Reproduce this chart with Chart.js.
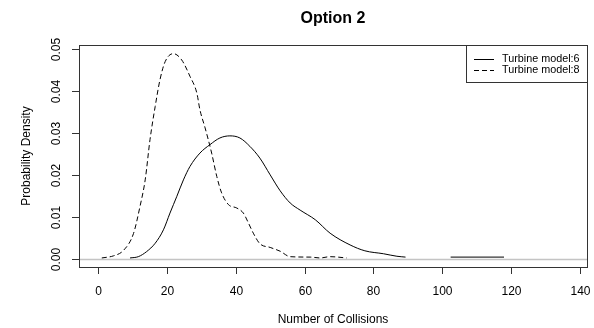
<!DOCTYPE html>
<html>
<head>
<meta charset="utf-8">
<script src="https://cdn.jsdelivr.net/npm/chart.js@4"></script>
<style>
  body { margin: 0; background: #fff; }
  canvas { display: block; }
</style>
</head>
<body>
<canvas id="chart" width="594" height="328"></canvas>
<script>
// values
var seriesNames = ['Turbine model:6', 'Turbine model:8'];

var x6 = [9.3, 11.7, 14.1, 16.6, 19.0, 20.9, 22.9, 24.8, 26.7, 29.6, 32.5, 35.4, 38.3, 41.2,
          44.1, 47.0, 50.0, 52.9, 55.8, 58.7, 63.1, 67.4, 73.2, 77.5, 82.9, 86.8, 89.3, null,
          102.4, 117.9];
var y6 = [0.0002, 0.0005, 0.0017, 0.0037, 0.0069, 0.0109, 0.0149, 0.0188, 0.0220, 0.0252,
          0.0272, 0.0288, 0.0293, 0.0288, 0.0268, 0.0240, 0.0200, 0.0162, 0.0133, 0.0116,
          0.0093, 0.0061, 0.0033, 0.0019, 0.0012, 0.0006, 0.0004, null, 0.0004, 0.0004];

var x8 = [1.1, 4.5, 7.4, 10.3, 12.2, 13.7, 15.1, 16.6, 18.0, 19.5, 21.9, 24.3, 26.7, 28.7,
          29.6, 31.1, 33.0, 34.5, 35.9, 37.9, 40.3, 42.2, 43.7, 45.1, 47.0, 50.0, 52.9, 55.8,
          61.6, 64.5, 67.4, 72.2];
var y8 = [0.0002, 0.0007, 0.0020, 0.0060, 0.0125, 0.0188, 0.0284, 0.0363, 0.0427, 0.0470,
          0.0489, 0.0474, 0.0435, 0.0395, 0.0355, 0.0312, 0.0252, 0.0196, 0.0157, 0.0129,
          0.0121, 0.0109, 0.0085, 0.0061, 0.0036, 0.0027, 0.0018, 0.0005, 0.0004, 0.0002,
          0.0005, 0.0002];

var xTicks = [0, 20, 40, 60, 80, 100, 120, 140];
var yTicks = [0, 0.01, 0.02, 0.03, 0.04, 0.05];
var yTickLabels = ['0.00', '0.01', '0.02', '0.03', '0.04', '0.05'];

function toPoints(xs, ys) {
    var pts = [];
    for (var i = 0; i < xs.length; i++) {
        pts.push(xs[i] === null ? { x: NaN, y: NaN } : { x: xs[i], y: ys[i] });
    }
    return pts;
}

var FONT = '"Liberation Sans", Arial, sans-serif';

// R style frame, axes, titles and legend
var rFrame = {
    id: 'rFrame',
    beforeDatasetsDraw: function (chart) {
        var c = chart.ctx, a = chart.chartArea, y = chart.scales.y;
        var py = Math.round(y.getPixelForValue(0)) + 0.5;
        c.save();
        c.strokeStyle = '#c4c4c4';
        c.lineWidth = 1.5;
        c.beginPath();
        c.moveTo(a.left, py);
        c.lineTo(a.right, py);
        c.stroke();
        c.restore();
    },
    afterDraw: function (chart) {
        var c = chart.ctx, a = chart.chartArea;
        var sx = chart.scales.x, sy = chart.scales.y;
        var i, p;
        c.save();
        c.strokeStyle = '#333';
        c.lineWidth = 1;
        c.strokeRect(a.left + 0.5, a.top + 0.5, a.right - a.left, a.bottom - a.top);

        c.fillStyle = '#000';
        c.font = '12px ' + FONT;
        c.textAlign = 'center';
        c.textBaseline = 'middle';
        c.beginPath();
        for (i = 0; i < xTicks.length; i++) {
            p = Math.round(sx.getPixelForValue(xTicks[i])) + 0.5;
            c.moveTo(p, a.bottom);
            c.lineTo(p, a.bottom + 7);
            c.fillText(String(xTicks[i]), p, 292);
        }
        for (i = 0; i < yTicks.length; i++) {
            p = Math.round(sy.getPixelForValue(yTicks[i])) + 0.5;
            c.moveTo(a.left, p);
            c.lineTo(a.left - 7, p);
            c.save();
            c.translate(57, p);
            c.rotate(-Math.PI / 2);
            c.fillText(yTickLabels[i], 0, 0);
            c.restore();
        }
        c.stroke();

        c.fillText('Number of Collisions', (a.left + a.right) / 2, 320);
        c.save();
        c.translate(27, (a.top + a.bottom) / 2);
        c.rotate(-Math.PI / 2);
        c.fillText('Probability Density', 0, 0);
        c.restore();

        c.font = 'bold 16px ' + FONT;
        c.fillText('Option 2', (a.left + a.right) / 2, 19);

        // legend
        var lx = 466.5, ly = a.top + 0.5, lw = a.right - 466, lh = 37;
        c.fillStyle = '#fff';
        c.fillRect(lx, ly, lw, lh);
        c.strokeRect(lx, ly, lw, lh);
        c.font = '10.8px ' + FONT;
        c.textAlign = 'left';
        c.fillStyle = '#000';
        c.strokeStyle = '#000';
        var rows = [59.5, 70.5];
        for (i = 0; i < seriesNames.length; i++) {
            c.setLineDash(i === 0 ? [] : [5, 3]);
            c.beginPath();
            c.moveTo(474, rows[i]);
            c.lineTo(494, rows[i]);
            c.stroke();
            c.fillText(seriesNames[i], 502, rows[i]);
        }
        c.restore();
    }
};

new Chart(document.getElementById('chart'), {
    type: 'scatter',
    data: {
        datasets: [
            {
                label: seriesNames[0],
                data: toPoints(x6, y6),
                showLine: true,
                spanGaps: false,
                borderColor: '#000',
                borderWidth: 1,
                pointRadius: 0,
                cubicInterpolationMode: 'monotone'
            },
            {
                label: seriesNames[1],
                data: toPoints(x8, y8),
                showLine: true,
                borderColor: '#000',
                borderWidth: 1,
                borderDash: [5, 3],
                pointRadius: 0,
                cubicInterpolationMode: 'monotone'
            }
        ]
    },
    options: {
        responsive: false,
        animation: false,
        layout: { padding: { left: 79, right: 7, top: 45, bottom: 61 } },
        scales: {
            x: { type: 'linear', display: false, min: -5.52, max: 142.0 },
            y: { type: 'linear', display: false, min: -0.00196, max: 0.05096 }
        },
        plugins: {
            legend: { display: false },
            title: { display: false },
            tooltip: { enabled: false }
        }
    },
    plugins: [rFrame]
});
</script>
</body>
</html>
